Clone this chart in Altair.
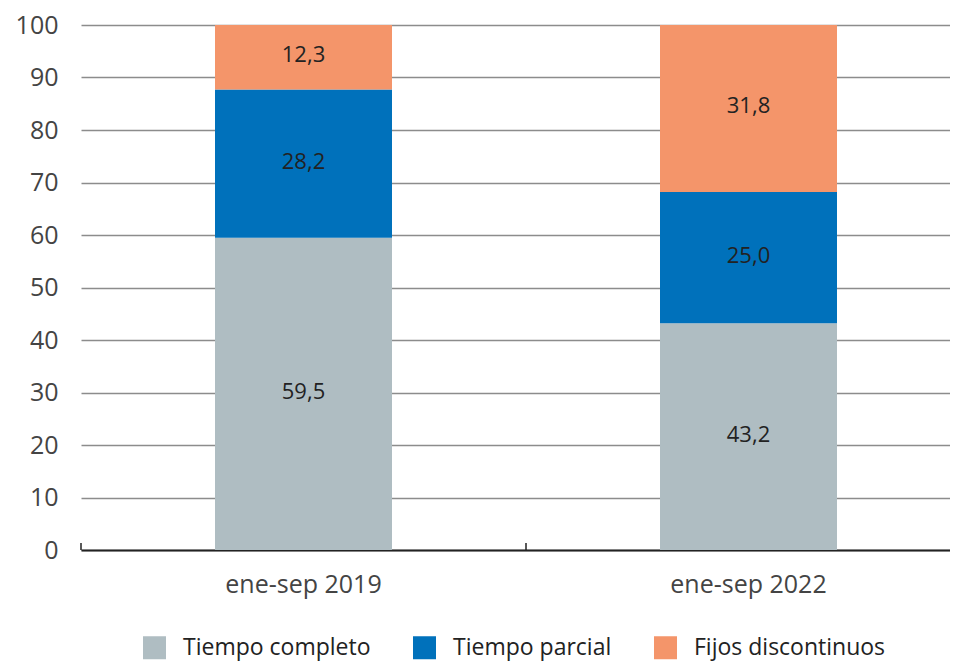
import altair as alt
import pandas as pd

periodos = ["ene-sep 2019", "ene-sep 2022"]
categorias = ["Tiempo completo", "Tiempo parcial", "Fijos discontinuos"]
valores_2019 = [59.5, 28.2, 12.3]
valores_2022 = [43.2, 25.0, 31.8]
colores = ["#afbdc2", "#0071bb", "#f4956a"]

rows = []
for p, vals in zip(periodos, [valores_2019, valores_2022]):
    for i, (c, v) in enumerate(zip(categorias, vals)):
        rows.append({"periodo": p, "tipo": c, "valor": v, "orden": i})
df = pd.DataFrame(rows)

FONT = "Open Sans"

x_enc = alt.X(
    "periodo:N",
    sort=periodos,
    title=None,
    scale=alt.Scale(range=[0, 890], paddingInner=0, paddingOuter=0),
    axis=alt.Axis(
        labelAngle=0, labelFontSize=25, labelColor="#444", labelFont=FONT,
        labelPadding=22, ticks=False, domainColor="#222", domainWidth=2,
        grid=False,
    ),
)

base = alt.Chart(df)

bars = base.mark_bar(size=177).encode(
    x=x_enc,
    y=alt.Y(
        "valor:Q",
        stack="zero",
        title=None,
        scale=alt.Scale(domain=[0, 100], nice=False),
        axis=alt.Axis(
            values=list(range(0, 101, 10)), labelFontSize=25, labelColor="#444",
            labelFont=FONT, labelPadding=23, ticks=False, domain=False,
            gridColor="#8c8c8c", gridWidth=1.5,
        ),
    ),
    color=alt.Color(
        "tipo:N",
        sort=categorias,
        scale=alt.Scale(domain=categorias, range=colores),
        legend=alt.Legend(
            title=None, orient="none", direction="horizontal",
            legendX=62, legendY=611, symbolType="square", symbolSize=529,
            symbolStrokeWidth=0, labelFontSize=23, labelFont=FONT,
            labelColor="#222", labelOffset=17, columnPadding=42,
            labelLimit=300,
        ),
    ),
    order=alt.Order("orden:Q", sort="ascending"),
)

labels = base.transform_calculate(
    etiqueta="replace(format(datum.valor, '.1f'), '.', ',')"
).transform_stack(
    stack="valor", groupby=["periodo"], as_=["y0", "y1"],
    sort=[alt.SortField("orden", order="ascending")],
).transform_calculate(
    mid="(datum.y0 + datum.y1) / 2"
).mark_text(fontSize=22, font=FONT, color="#222", dy=-2).encode(
    x=alt.X("periodo:N", sort=periodos),
    y=alt.Y("mid:Q"),
    text="etiqueta:N",
)

ticks = alt.Chart(pd.DataFrame({"periodo": periodos})).mark_rule(
    color="#222", strokeWidth=1.5
).encode(
    x=alt.X("periodo:N", sort=periodos, bandPosition=0),
    y=alt.value(525),
    y2=alt.value(518),
)

chart = alt.layer(bars, labels, ticks).properties(
    width=869,
    height=525,
    autosize=alt.AutoSizeParams(type="none"),
    padding={"left": 73, "top": 17, "right": 0, "bottom": 111},
).configure_view(stroke=None)

chart.save("out.html", embed_options={"renderer": "svg", "actions": False})
